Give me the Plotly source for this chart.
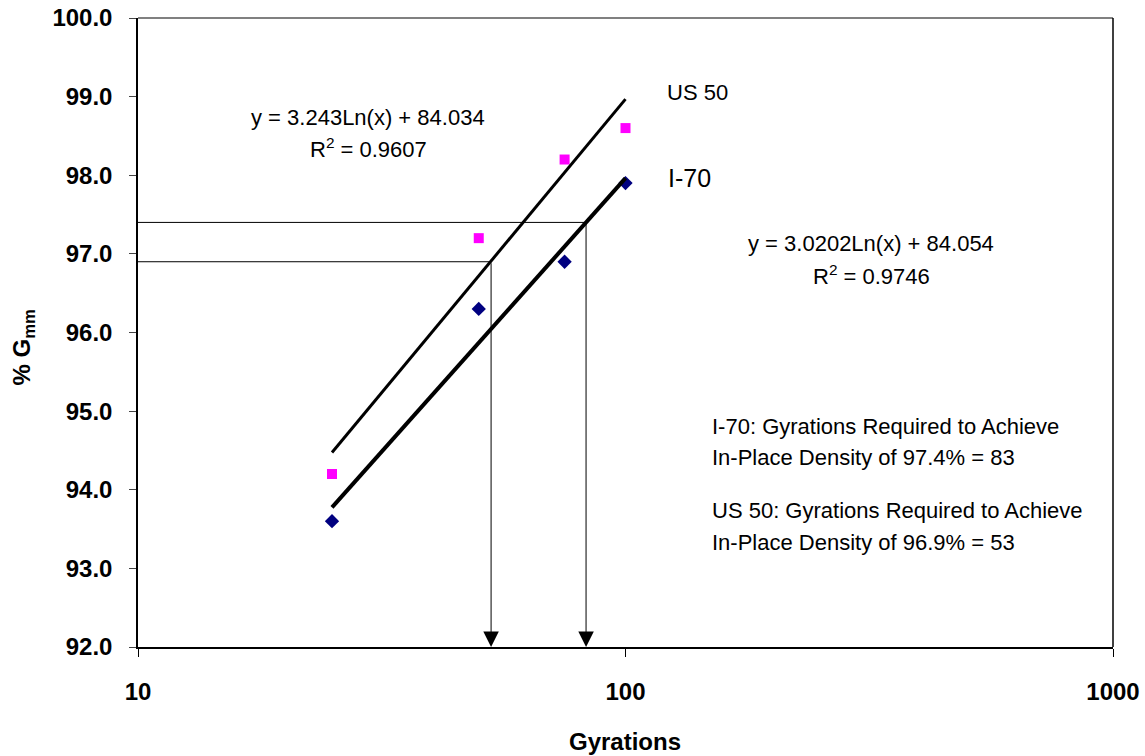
import numpy as np
import plotly.graph_objects as go

# Measured bulk specific gravity (% Gmm) vs. gyration count
gyrations = [25, 50, 75, 100]
us50_gmm = [94.2, 97.2, 98.2, 98.6]
i70_gmm = [93.6, 96.3, 96.9, 97.9]

# Logarithmic trendlines: y = a * ln(x) + b
us50_fit = (3.243, 84.034)
i70_fit = (3.0202, 84.054)
us50_r2 = 0.9607
i70_r2 = 0.9746

# In-place density targets and the gyrations needed to reach them
i70_target = 97.4
i70_required = 83
us50_target = 96.9
us50_required = 53

x_ticks = [10, 100, 1000]
y_ticks = [92, 93, 94, 95, 96, 97, 98, 99, 100]

FONT = "Liberation Sans, Arial, sans-serif"

# Plot-area geometry in pixels, used to place free text
W, H = 1145, 756
L, R, T, B = 137.5, 32, 18, 109
PW, PH = W - L - R, H - T - B


def px(x):
    return (x - L) / PW


def py(y):
    return (H - B - y) / PH


fig = go.Figure()

fig.add_trace(go.Scatter(
    x=gyrations, y=us50_gmm, mode="markers", name="US 50",
    marker=dict(symbol="square", size=10, color="#FF00FF"),
))
fig.add_trace(go.Scatter(
    x=gyrations, y=i70_gmm, mode="markers", name="I-70",
    marker=dict(symbol="diamond", size=11, color="#000080"),
))

xs = np.geomspace(min(gyrations), max(gyrations), 200)
fig.add_trace(go.Scatter(
    x=xs, y=us50_fit[0] * np.log(xs) + us50_fit[1], mode="lines",
    line=dict(color="black", width=3), hoverinfo="skip",
))
fig.add_trace(go.Scatter(
    x=xs, y=i70_fit[0] * np.log(xs) + i70_fit[1], mode="lines",
    line=dict(color="black", width=4), hoverinfo="skip",
))

# Horizontal guides from the axis to the required gyration count
for target, req in [(i70_target, i70_required), (us50_target, us50_required)]:
    fig.add_trace(go.Scatter(
        x=[x_ticks[0], req], y=[target, target], mode="lines",
        line=dict(color="black", width=1), hoverinfo="skip",
    ))
    # Vertical drop with arrowhead onto the gyration axis
    fig.add_annotation(
        x=np.log10(req), y=y_ticks[0], ax=np.log10(req), ay=target,
        xref="x", yref="y", axref="x", ayref="y",
        showarrow=True, arrowhead=2, arrowsize=3.1, arrowwidth=1,
        arrowcolor="black", standoff=0, text="",
    )


def label(text, x, y, xanchor="center", size=22):
    fig.add_annotation(
        text=text, x=px(x), y=py(y), xref="paper", yref="paper",
        xanchor=xanchor, yanchor="middle", showarrow=False,
        font=dict(family=FONT, size=size, color="black"),
    )


label(f"y = {us50_fit[0]}Ln(x) + {us50_fit[1]}", 368, 117)
label(f"R<sup>2</sup> = {us50_r2}", 368, 148)
label(f"y = {i70_fit[0]}Ln(x) + {i70_fit[1]}", 871, 243)
label(f"R<sup>2</sup> = {i70_r2}", 871, 275)
label("US 50", 665, 92, xanchor="left")
label("I-70", 666, 178, xanchor="left", size=25)
label("I-70: Gyrations Required to Achieve", 710, 426, xanchor="left")
label(f"In-Place Density of {i70_target}% = {i70_required}", 710, 458, xanchor="left")
label("US 50: Gyrations Required to Achieve", 710, 510, xanchor="left")
label(f"In-Place Density of {us50_target}% = {us50_required}", 710, 542, xanchor="left")

# Axis titles
fig.add_annotation(
    text="<b>Gyrations</b>", x=px(625), y=py(741), xref="paper", yref="paper",
    showarrow=False, xanchor="center", yanchor="middle",
    font=dict(family=FONT, size=24, color="black"),
)
fig.add_annotation(
    text="<b>% G<sub>mm</sub></b>", x=px(22), y=py(347), xref="paper", yref="paper",
    showarrow=False, xanchor="center", yanchor="middle", textangle=-90,
    font=dict(family=FONT, size=24, color="black"),
)

# Frame: grey top edge, black right edge
fig.add_shape(type="line", xref="paper", yref="paper", x0=0, x1=1, y0=1, y1=1,
              line=dict(color="#808080", width=2))
fig.add_shape(type="line", xref="paper", yref="paper", x0=1, x1=1, y0=0, y1=1,
              line=dict(color="black", width=1.5))

fig.update_layout(
    width=W, height=H, autosize=False,
    margin=dict(l=L, r=R, t=T, b=B, pad=0),
    paper_bgcolor="white", plot_bgcolor="white",
    showlegend=False,
    font=dict(family=FONT, color="black"),
    xaxis=dict(
        type="log", range=[1, 3], tickvals=x_ticks, ticktext=[str(v) for v in x_ticks],
        showgrid=False, zeroline=False, showline=True, linecolor="black", linewidth=2,
        ticks="outside", ticklen=8, tickcolor="black", tickwidth=1,
        tickfont=dict(family=FONT, size=24, color="black", weight="bold"),
        ticklabelstandoff=14, automargin=False,
    ),
    yaxis=dict(
        range=[92, 100], tickvals=y_ticks, tickformat=".1f",
        showgrid=False, zeroline=False, showline=True, linecolor="black", linewidth=1.5,
        ticks="outside", ticklen=7, tickcolor="#444", tickwidth=1,
        tickfont=dict(family=FONT, size=24, color="black", weight="bold"),
        ticklabelstandoff=12, automargin=False,
    ),
)

fig.write_html("out.html")
